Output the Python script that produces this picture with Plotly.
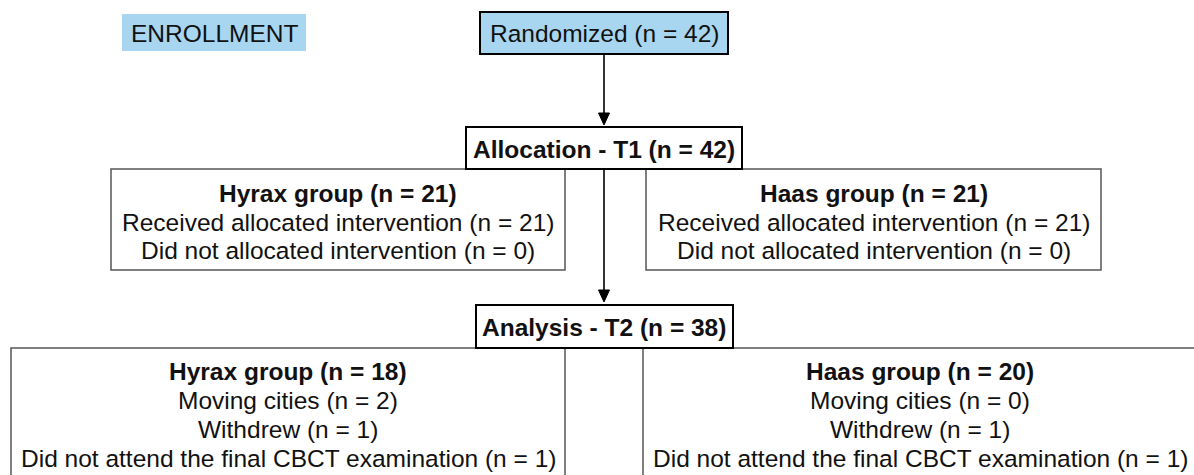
import plotly.graph_objects as go

# ---- data ----
header_label = "ENROLLMENT"
stages = ["Randomized", "Allocation - T1", "Analysis - T2"]
stage_n = [42, 42, 38]
groups = ["Hyrax group", "Haas group"]
t1_group_n = [21, 21]
t1_received = [21, 21]
t1_not_received = [0, 0]
t2_group_n = [18, 20]
t2_moving = [2, 0]
t2_withdrew = [1, 1]
t2_no_cbct = [1, 1]

W, H = 1194, 475
FONT = "Liberation Sans, Arial, Helvetica, sans-serif"
FS = 24.5
BLUE = "#a8d6f0"
TXT = "#111111"

fig = go.Figure()
shapes = []
annots = []


def box(x0, y0, x1, y1, fill="white", lc="black", lw=2):
    shapes.append(dict(type="rect", xref="x", yref="y", x0=x0, y0=y0, x1=x1, y1=y1,
                       fillcolor=fill, line=dict(color=lc, width=lw), layer="below"))


def text(x, y, s, bold=False):
    annots.append(dict(x=x, y=y, xref="x", yref="y", showarrow=False,
                       text=f"<b>{s}</b>" if bold else s,
                       font=dict(family=FONT, size=FS, color=TXT),
                       xanchor="center", yanchor="middle"))


def arrow(x, y0, y1):
    shapes.append(dict(type="line", xref="x", yref="y", x0=x, y0=y0, x1=x, y1=y1 - 10,
                       line=dict(color="black", width=1.6)))
    shapes.append(dict(type="path", xref="x", yref="y",
                       path=f"M {x-5.5},{y1-12} L {x+5.5},{y1-12} L {x},{y1} Z",
                       fillcolor="black", line=dict(color="black", width=1)))


def nlab(label, n):
    return f"{label} (n = {n})"


cx = 604

# Enrollment label
box(122, 14, 306, 51, fill=BLUE, lc=BLUE, lw=0)
text(214, 33, header_label)

# Randomized
box(480, 12, 728, 54, fill=BLUE)
text(cx, 33, nlab(stages[0], stage_n[0]))
arrow(cx, 54, 125)

# Allocation
box(466, 127, 742, 169)
text(cx, 149, nlab(stages[1], stage_n[1]), bold=True)

# T1 group boxes
t1_boxes = [(111, 565), (646, 1101)]
for i, (x0, x1) in enumerate(t1_boxes):
    box(x0, 169, x1, 270, lc="#555555", lw=1.5)
    mx = (x0 + x1) / 2
    text(mx, 193, nlab(groups[i], t1_group_n[i]), bold=True)
    text(mx, 222, nlab("Received allocated intervention", t1_received[i]))
    text(mx, 250, nlab("Did not allocated intervention", t1_not_received[i]))

arrow(cx, 169, 302)

# Analysis
box(476, 305, 733, 348)
text(cx, 327, nlab(stages[2], stage_n[2]), bold=True)

# T2 group boxes
t2_boxes = [(11, 565), (643, 1197)]
for i, (x0, x1) in enumerate(t2_boxes):
    box(x0, 348, x1, 520, lc="#555555", lw=1.5)
    mx = (x0 + x1) / 2
    text(mx, 371, nlab(groups[i], t2_group_n[i]), bold=True)
    text(mx, 400, nlab("Moving cities", t2_moving[i]))
    text(mx, 429, nlab("Withdrew", t2_withdrew[i]))
    text(mx, 458, nlab("Did not attend the final CBCT examination", t2_no_cbct[i]))

# strong borders on top of group box outlines
for (x0, y0, x1, y1) in [(466, 127, 742, 169), (476, 305, 733, 348)]:
    shapes.append(dict(type="rect", xref="x", yref="y", x0=x0, y0=y0, x1=x1, y1=y1,
                       line=dict(color="black", width=2), layer="above"))

fig.update_layout(
    width=W, height=H,
    margin=dict(l=0, r=0, t=0, b=0),
    paper_bgcolor="white", plot_bgcolor="white",
    xaxis=dict(range=[0, W], visible=False, fixedrange=True),
    yaxis=dict(range=[H, 0], visible=False, fixedrange=True),
    shapes=shapes, annotations=annots, showlegend=False,
)
fig.write_html("out.html", config={"displayModeBar": False},
               post_script="document.body.style.margin='0';document.body.style.overflow='hidden';")
